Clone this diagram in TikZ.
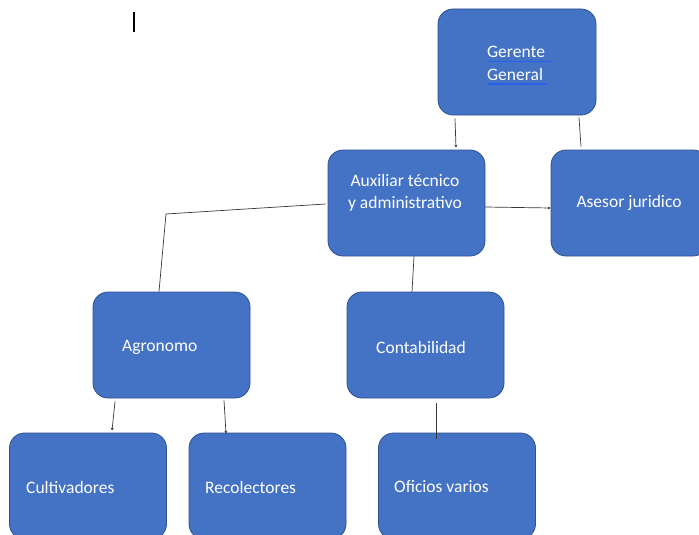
\documentclass[tikz,border=0pt]{standalone}
\usepackage{fontspec}
\setmainfont{Carlito}
\usepackage{tikz}
\usetikzlibrary{calc,positioning,arrows.meta}
\definecolor{boxfill}{RGB}{68,114,196}
\definecolor{boxline}{RGB}{47,82,143}
\definecolor{wire}{RGB}{55,55,55}
\definecolor{spell}{RGB}{40,95,235}

\begin{document}
\begin{tikzpicture}[x=1pt,y=-1pt,
        unit/.style={draw=boxline,fill=boxfill,line width=0.8pt,rounded corners=15pt,
            minimum width=157pt,minimum height=106pt,inner sep=0pt},
        txt/.style={text=white,inner sep=0pt,font=\fontsize{17.5}{22}\selectfont},
        wire/.style={draw=wire,line width=0.7pt},
        tip/.style={wire,-{Stealth[length=3pt,width=3pt]}},
        under/.style={draw=spell,line width=1.3pt}]
        \useasboundingbox (0,0) rectangle (699,535);
        \clip (0,0) rectangle (699,535);

        \draw[line width=1.2pt] (134,12) -- (134,32);

        \node[unit,minimum width=158pt] (ger) at (517,62) {};
        \node[unit] (aux) at (406.5,203) {};
        \node[unit] (ase) at (629.5,203) {};
        \node[unit] (agr) at (171.5,345) {};
        \node[unit] (con) at (425.5,345) {};
        \node[unit] (cul) at (88,486) {};
        \node[unit] (rec) at (267.5,486) {};
        \node[unit] (ofi) at (457,486) {};

        \node[txt,anchor=west] (ger-a) at (487,52) {Gerente};
        \node[txt,anchor=west] (ger-b) at (487,74) {General};
        \draw[under] ([yshift=-4pt]ger-a.base west) -- ([xshift=6pt,yshift=-4pt]ger-a.base east);
        \draw[under] ([xshift=1pt,yshift=-4pt]ger-b.base west) -- ([xshift=4pt,yshift=-4pt]ger-b.base east);
        \node[txt,align=center] (aux-t) at (405,192.5) {Auxiliar técnico\\y administrativo};
        \node[txt] (ase-t) at (629,203) {Asesor juridico};
        \node[txt,anchor=west] (agr-t) at (122,347) {Agronomo};
        \node[txt,anchor=west] (con-t) at (376,347) {Contabilidad};
        \node[txt,anchor=west] (cul-t) at (26,487) {Cultivadores};
        \node[txt,anchor=west] (rec-t) at (205,487) {Recolectores};
        \node[txt,anchor=west] (ofi-t) at (394,487) {Oficios varios};

        \coordinate (bend) at (166,214);

        \draw[tip] ([xshift=-62pt,yshift=-3pt]ger.south) -- ([xshift=49.5pt,yshift=2pt]aux.north);
        \draw[wire] ([xshift=62pt,yshift=-2pt]ger.south) -- ([xshift=-48.5pt,yshift=3pt]ase.north);
        \draw[tip] ([yshift=-4pt]aux.east) -- ([yshift=-5pt]ase.west);
        \draw[wire] ([xshift=-2pt,yshift=-1pt]aux.west) -- (bend) -- ([xshift=-12.5pt]agr.north);
        \draw[wire] ([xshift=7.5pt]aux.south) -- ([xshift=-13.5pt]con.north);
        \draw[tip] ([xshift=-56.5pt,yshift=-3pt]agr.south) -- ([xshift=24pt,yshift=2pt]cul.north);
        \draw[tip] ([xshift=52.5pt,yshift=-2pt]agr.south) -- ([xshift=-41.5pt,yshift=-1pt]rec.north);
        \draw[wire] ([xshift=10.5pt,yshift=-5pt]con.south) -- ([xshift=-21pt,yshift=-6pt]ofi.north);
    \end{tikzpicture}
\end{document}
